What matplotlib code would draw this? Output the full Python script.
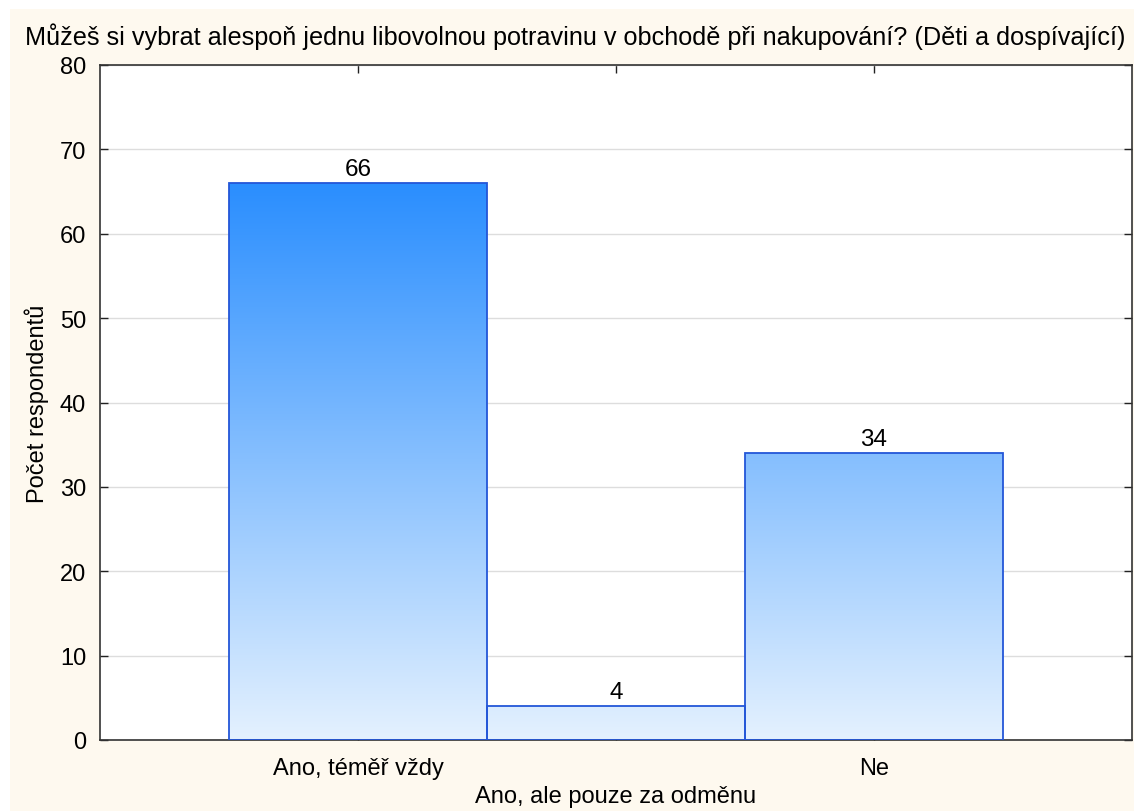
import numpy as np
import matplotlib.pyplot as plt
from matplotlib.colors import LinearSegmentedColormap
from matplotlib.patches import Rectangle

plt.rcParams['font.family'] = ['Liberation Sans', 'DejaVu Sans']

title = 'Můžeš si vybrat alespoň jednu libovolnou potravinu v obchodě při nakupování? (Děti a dospívající)'
categories = ['Ano, téměř vždy', 'Ano, ale pouze za odměnu', 'Ne']
counts = [66, 4, 34]
y_label = 'Počet respondentů'

W, H = 1134, 812
fig = plt.figure(figsize=(W / 100, H / 100), dpi=100, facecolor='white')
fig.patches.append(Rectangle((10 / W, -0.1), 2, 1.1 - 10 / H, transform=fig.transFigure,
                             facecolor='#fef9ef', edgecolor='none', zorder=-10))

ax = fig.add_axes([100 / W, 1 - 741 / H, 1032 / W, 675 / H])
ax.set_facecolor('white')

x = np.arange(len(categories))

# vertical gradient, light at 0, strong blue at the max value
cmap = LinearSegmentedColormap.from_list('bl', ['#e4f1fe', '#2a8eff'])
grad = np.linspace(0, 1, 256).reshape(-1, 1)
top = max(counts)
for xi, v in zip(x, counts):
    im = ax.imshow(grad, cmap=cmap, origin='lower', aspect='auto',
                   extent=(xi - 0.5, xi + 0.5, 0, top), zorder=2)
    rect = Rectangle((xi - 0.5, 0), 1, v, transform=ax.transData)
    im.set_clip_path(rect)
    ax.add_patch(Rectangle((xi - 0.5, 0), 1, v, facecolor='none',
                           edgecolor='#2356d8', linewidth=1.3, zorder=3))
    ax.text(xi, v + 0.4, str(v), ha='center', va='bottom', fontsize=17.5, color='black', zorder=4)

ax.set_xlim(-1, 3)
ax.set_ylim(0, 80)
ax.set_yticks(range(0, 81, 10))
ax.yaxis.grid(True, color='#dddddd', linewidth=1)
ax.set_axisbelow(True)
ax.set_xticks(x)
ax.set_xticklabels([c if i % 2 == 0 else '\n' + c for i, c in enumerate(categories)],
                   linespacing=1.35)
ax.tick_params(direction='in', length=6, width=1, labelsize=17, top=True, right=True,
               colors='#222222', labelcolor='black', pad=10)
ax.tick_params(axis='x', pad=12)
for s in ax.spines.values():
    s.set_color('#333333')
    s.set_linewidth(1.2)

ax.set_ylabel(y_label, fontsize=17, labelpad=8)
fig.text(0.5 + 10 / W / 2 + 0.003, 1 - 37 / H, title, ha='center', va='center', fontsize=18.2)

fig.savefig('out.png', dpi=100)
